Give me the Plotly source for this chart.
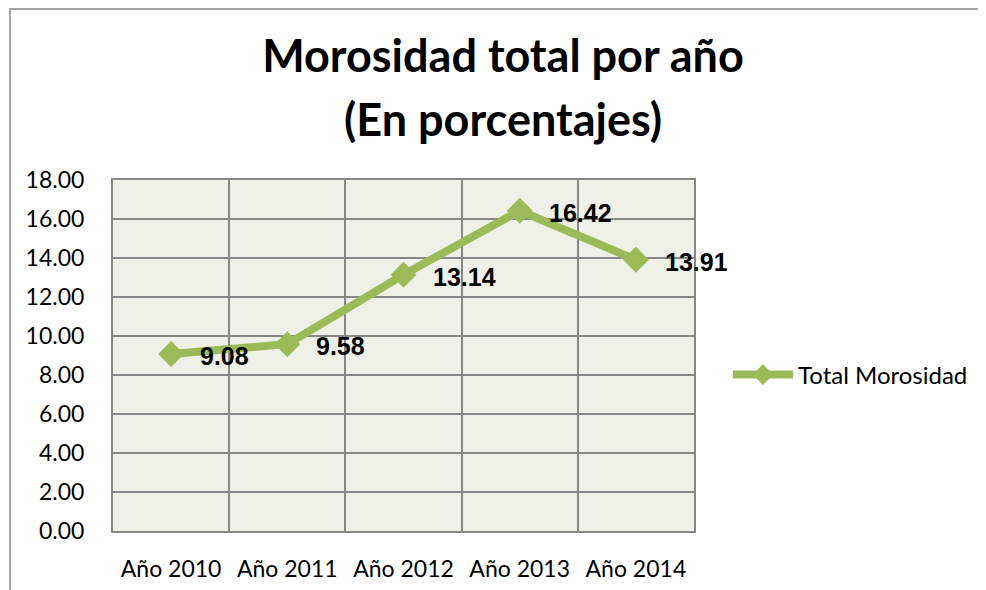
import plotly.graph_objects as go

categories = ["Año 2010", "Año 2011", "Año 2012", "Año 2013", "Año 2014"]
values = [9.08, 9.58, 13.14, 16.42, 13.91]
series_name = "Total Morosidad"
title_line1 = "Morosidad total por año"
title_line2 = "(En porcentajes)"

OFF = 8  # page body margin
W, H = 986, 590
# target screen positions of the plot area
SL, ST, SR, SB = 113, 180, 694, 531
L, T = SL - OFF, ST - OFF
R, B = W - (SR - OFF), H - (SB - OFF)
pw, ph = W - L - R, H - T - B

def px_x(x):
    return (x - OFF - L) / pw

def px_y(y):
    return (H - B - (y - OFF)) / ph

green = "#9BBB59"
grid = "#878787"
font_main = "Lato"

fig = go.Figure()
fig.add_trace(go.Scatter(
    x=categories, y=values, name=series_name,
    mode="lines+markers",
    line=dict(color=green, width=8),
    marker=dict(symbol="diamond", size=20, color=green),
    cliponaxis=False,
))
for c, v in zip(categories, values):
    fig.add_annotation(x=c, y=v, text=f"{v:.2f}", showarrow=False,
                       xanchor="left", yanchor="middle", xshift=27, yshift=-2,
                       font=dict(family="Liberation Sans", size=25, color="#000000", weight="bold"))

fig.update_layout(
    width=W, height=H,
    margin=dict(l=L, r=R, t=T, b=B),
    paper_bgcolor="white",
    plot_bgcolor="#EFF1E9",
    font=dict(family=font_main, color="#000000"),
    showlegend=True,
    legend=dict(x=px_x(728), y=px_y(375), xanchor="left", yanchor="middle",
                font=dict(family=font_main, size=24), bgcolor="rgba(0,0,0,0)",
                itemwidth=60),
    title=dict(text=title_line1, x=(503 - OFF) / W, xanchor="center",
               y=1 - (56 - OFF) / H, yanchor="middle", yref="container",
               font=dict(family=font_main, size=45, weight="bold", color="#000000")),
)
fig.add_annotation(text=title_line2, xref="paper", yref="paper",
                   x=px_x(503), y=px_y(119), xanchor="center", yanchor="middle",
                   showarrow=False,
                   font=dict(family=font_main, size=45, weight="bold", color="#000000"))

fig.update_xaxes(
    type="category", tickson="boundaries", range=[-0.5, len(categories) - 0.5],
    showgrid=True, gridcolor=grid, gridwidth=1.5,
    showline=True, linecolor=grid, linewidth=2, mirror=True,
    ticks="", ticklabelstandoff=16,
    tickfont=dict(family=font_main, size=23), zeroline=False,
)
fig.update_yaxes(
    range=[0, 18], dtick=2, tickformat=".2f",
    showgrid=True, gridcolor=grid, gridwidth=1.5,
    showline=True, linecolor=grid, linewidth=2, mirror=True,
    ticks="outside", ticklen=22, tickcolor="rgba(0,0,0,0)",
    tickfont=dict(family=font_main, size=23), zeroline=False,
)

# outer chart frame
fig.add_shape(type="path", xref="paper", yref="paper",
              path=f"M {px_x(10)} {px_y(620)} L {px_x(10)} {px_y(9)} L {px_x(1020)} {px_y(9)}",
              line=dict(color="#A6A6A6", width=2), layer="below")

fig.write_html("out.html")
